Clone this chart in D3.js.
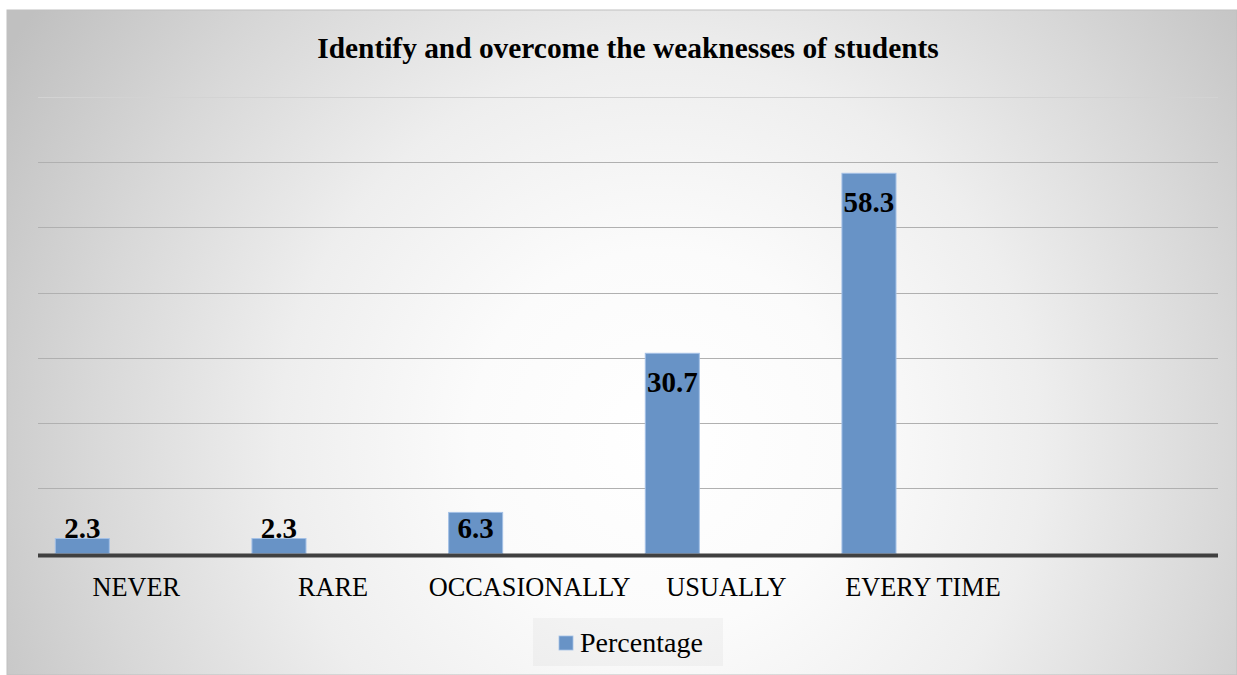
<!DOCTYPE html>
<html>
<head>
<meta charset="utf-8">
<script src="https://cdn.jsdelivr.net/npm/d3@7"></script>
<style>
  html, body { margin: 0; padding: 0; background: #ffffff; }
  svg { display: block; }
  text { font-family: "Liberation Serif", "Times New Roman", serif; fill: #000; }
</style>
</head>
<body>
<script>
// Survey responses: how often teachers identify and overcome student weaknesses
const categories = ["NEVER", "RARE", "OCCASIONALLY", "USUALLY", "EVERY TIME", ""];
const percentage = [2.3, 2.3, 6.3, 30.7, 58.3, null];
const seriesNames = ["Percentage"];
const yTicks = [0, 10, 20, 30, 40, 50, 60, 70];
const title = "Identify and overcome the weaknesses of students";

const W = 1237, H = 675;
const svg = d3.select("body").append("svg").attr("width", W).attr("height", H);

// Background: radial grey-to-white fill of the chart frame
const defs = svg.append("defs");
const grad = defs.append("radialGradient")
  .attr("id", "bg")
  .attr("gradientUnits", "userSpaceOnUse")
  .attr("cx", 660).attr("cy", 440).attr("r", 760)
  .attr("fx", 660).attr("fy", 440);
[[0, "#ffffff"], [0.25, "#fbfbfb"], [0.5, "#eeeeee"], [0.75, "#d8d8d8"], [1, "#c0c0c0"]]
  .forEach(([o, c]) => grad.append("stop").attr("offset", o).attr("stop-color", c));

const frame = { x: 7, y: 10, w: 1230, h: 665 };
svg.append("rect")
  .attr("x", frame.x).attr("y", frame.y)
  .attr("width", frame.w).attr("height", frame.h)
  .attr("fill", "url(#bg)")
  .attr("stroke", "#bfbfbf").attr("stroke-width", 1);

// Plot area
const plot = { left: 38, right: 1218, top: 97, bottom: 553.5 };

const x = d3.scaleBand().domain(categories).range([plot.left, plot.right]).padding(0);
// three bar slots per category, only the first series carries data
const xSlot = d3.scaleBand().domain(d3.range(3)).range([0, x.bandwidth()])
  .paddingInner(0).paddingOuter(0.32);
const y = d3.scaleLinear().domain([0, 70]).range([plot.bottom, plot.top]);

// Horizontal gridlines
svg.append("g").selectAll("line")
  .data(yTicks.filter(t => t > 0))
  .join("line")
  .attr("x1", plot.left).attr("x2", plot.right)
  .attr("y1", d => Math.round(y(d)) + 0.5).attr("y2", d => Math.round(y(d)) + 0.5)
  .attr("stroke", d => d === 70 ? "#d3d3d3" : "#b0b0b0")
  .attr("stroke-width", 1);

// Bars
const barData = categories.map((c, i) => ({ cat: c, v: percentage[i] })).filter(d => d.v != null);
svg.append("g").selectAll("rect")
  .data(barData)
  .join("rect")
  .attr("x", d => x(d.cat) + xSlot(0))
  .attr("y", d => y(d.v))
  .attr("width", xSlot.bandwidth())
  .attr("height", d => y(0) - y(d.v))
  .attr("fill", "#6893c6")
  .attr("stroke", "#a3c0e6")
  .attr("stroke-width", 1);

// Category axis line
svg.append("line")
  .attr("x1", plot.left).attr("x2", plot.right)
  .attr("y1", y(0) + 2).attr("y2", y(0) + 2)
  .attr("stroke", "#404040").attr("stroke-width", 4);

// Category labels
const xAxis = d3.axisBottom(x).tickSize(0).tickPadding(0);
const gx = svg.append("g").attr("transform", `translate(0,${y(0)})`).call(xAxis);
gx.select(".domain").remove();
gx.selectAll("text")
  .attr("dy", null)
  .attr("y", 42.5)
  .style("font-family", '"Liberation Serif", "Times New Roman", serif')
  .style("font-size", "26.3px")
  .attr("fill", "#000");

// Value labels (inside end of bar, kept above the axis for short bars)
svg.append("g").selectAll("text")
  .data(barData)
  .join("text")
  .attr("x", d => x(d.cat) + xSlot(0) + xSlot.bandwidth() / 2)
  .attr("y", d => Math.min(y(d.v) + 39, y(0) - 16))
  .attr("text-anchor", "middle")
  .style("font-size", "29px")
  .style("font-weight", "bold")
  .text(d => d.v.toFixed(1));

// Title
svg.append("text")
  .attr("x", 628).attr("y", 58)
  .attr("text-anchor", "middle")
  .style("font-size", "29.4px")
  .style("font-weight", "bold")
  .text(title);

// Legend
const lg = svg.append("g").attr("transform", "translate(533,618)");
lg.append("rect").attr("width", 190).attr("height", 48)
  .attr("fill", "#000").attr("fill-opacity", 0.03);
lg.selectAll("g.item").data(seriesNames).join("g").attr("class", "item")
  .each(function (d) {
    const g = d3.select(this);
    g.append("rect").attr("x", 26).attr("y", 18).attr("width", 14).attr("height", 14)
      .attr("fill", "#6893c6").attr("stroke", "#a3c0e6").attr("stroke-width", 0.8);
    g.append("text").attr("x", 47).attr("y", 33.5)
      .style("font-size", "28px").text(d);
  });
</script>
</body>
</html>
